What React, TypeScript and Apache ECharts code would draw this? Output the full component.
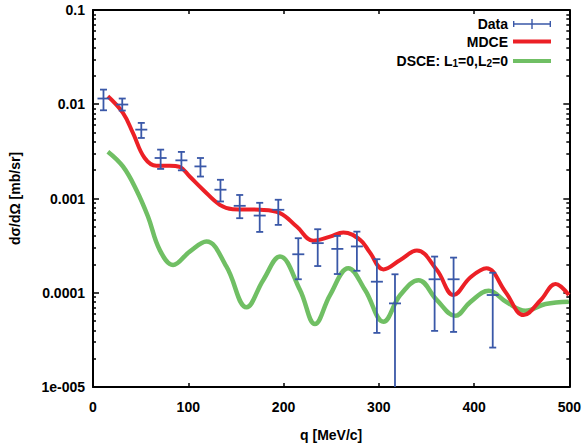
import React, { useEffect, useRef } from "react";
import * as echarts from "echarts";

// Data points: q [MeV/c], value, lower, upper
const dataQ = [11, 30.7, 50.7, 71, 92.8, 112.8, 133.8, 154, 175, 194.5, 215.5, 235.9, 256.5, 277, 298, 317, 358.6, 378.5, 419.6];
const dataV = [0.0115, 0.00993, 0.00538, 0.00269, 0.00254, 0.00219, 0.00124, 0.000836, 0.000659, 0.000759, 0.000256, 0.000336, 0.000292, 0.00031, 0.000131, 0.0000771, 0.000139, 0.000139, 0.0000946];
const dataLo = [0.00863, 0.00857, 0.00439, 0.00206, 0.00199, 0.00171, 0.00093, 0.000618, 0.000442, 0.000525, 0.000139, 0.000192, 0.000158, 0.000171, 0.0000375, 0.000001, 0.0000394, 0.0000384, 0.0000262];
const dataHi = [0.0143, 0.0115, 0.00634, 0.0033, 0.00312, 0.00269, 0.00158, 0.00109, 0.0009, 0.00097, 0.000379, 0.000472, 0.000401, 0.000445, 0.000227, 0.000157, 0.000242, 0.000236, 0.000163];

// MDCE curve
const mdceQ = [15.6, 31.4, 41.9, 54.2, 66.5, 80.5, 91, 101.5, 115.5, 133.1, 146.8, 175.1, 196.2, 213.8, 231.2, 248.8, 262.8, 280.4, 290.3, 304.9, 322.5, 340, 361, 378.5, 396, 413, 433, 452, 470, 485.5, 499.5];
const mdceV = [0.01216, 0.00811, 0.00497, 0.00269, 0.00223, 0.00223, 0.00216, 0.00171, 0.00124, 0.000857, 0.000771, 0.000759, 0.0007, 0.000504, 0.000357, 0.000394, 0.000435, 0.000364, 0.000271, 0.000177, 0.000223, 0.00028, 0.000174, 0.0000945, 0.000145, 0.000182, 0.000102, 0.0000579, 0.0000837, 0.000124, 0.0000945];

// DSCE curve
const dsceQ = [15.6, 31.4, 45.4, 57.7, 70, 84, 101.5, 119.1, 140.1, 161.2, 178.6, 196.2, 217.3, 233, 248.8, 268, 285.6, 304.9, 322.5, 341.7, 361, 380.3, 396, 415.4, 434, 454, 475, 499.5];
const dsceV = [0.00314, 0.00219, 0.00124, 0.000644, 0.000285, 0.000197, 0.000273, 0.000349, 0.000189, 0.00007, 0.000136, 0.000242, 0.000107, 0.0000465, 0.0000945, 0.000182, 0.000107, 0.0000492, 0.0000945, 0.000136, 0.0000836, 0.0000569, 0.0000796, 0.000105, 0.0000796, 0.0000644, 0.0000759, 0.0000802];

const yMajorTicks = [0.00001, 0.0001, 0.001, 0.01, 0.1];
const yTickLabels = ["1e-005", "0.0001", "0.001", "0.01", "0.1"];
const xTicks = [0, 100, 200, 300, 400, 500];

const BLUE = "#3a58a8";
const RED = "#ec2026";
const GREEN = "#70bf64";
const FONT = '"Liberation Sans", Arial, sans-serif';

const yMinorTicks: number[] = [];
for (let e = -5; e < -1; e++) {
  for (let m = 2; m <= 9; m++) yMinorTicks.push(Number((m * Math.pow(10, e)).toPrecision(3)));
}

export default function App() {
  const ref = useRef<HTMLDivElement>(null);
  useEffect(() => {
    if (!ref.current) return;
    const chart = echarts.init(ref.current, undefined, { renderer: "svg" });
    const grid = { left: 93, right: 14, top: 10, bottom: 61 };
    const baseY = {
      type: "log" as const,
      logBase: 10,
      min: 0.00001,
      max: 0.1,
      splitLine: { show: false },
      axisLine: { show: true, lineStyle: { color: "#000", width: 2 } },
    };
    const yLabelFmt = (v: number) => {
      const i = yMajorTicks.findIndex((t) => Math.abs(Math.log10(t) - Math.log10(v)) < 1e-6);
      return i >= 0 ? yTickLabels[i] : "";
    };
    const option: any = {
      animation: false,
      grid,
      legend: {
        orient: "vertical",
        align: "right",
        right: 28,
        top: 12,
        itemWidth: 38,
        itemHeight: 10,
        itemGap: 3.5,
        selectedMode: false,
        textStyle: {
          color: "#000",
          fontWeight: "bold",
          fontSize: 14,
          fontFamily: FONT,
          rich: {
            sub: { fontSize: 10, fontWeight: "bold", fontFamily: FONT, verticalAlign: "bottom", lineHeight: 10, padding: [6, 0, 0, 0] },
          },
        },
        formatter: (name: string) => (name.startsWith("DSCE") ? "DSCE: L{sub|1}=0,L{sub|2}=0" : name),
        data: [
          { name: "Data", icon: "path://M0,4.3L38,4.3L38,5.7L0,5.7ZM0,2L1.4,2L1.4,8L0,8ZM36.6,2L38,2L38,8L36.6,8ZM18.3,0L19.7,0L19.7,10L18.3,10Z" },
          { name: "MDCE", icon: "path://M0,0L0,0ZM38,10L38,10ZM0,3L38,3L38,7L0,7Z" },
          { name: "DSCE: L1=0,L2=0", icon: "path://M0,0L0,0ZM38,10L38,10ZM0,3L38,3L38,7L0,7Z" },
        ],
      },
      xAxis: [
        {
          type: "value",
          min: 0,
          max: 500,
          interval: 100,
          position: "bottom",
          name: "q [MeV/c]",
          nameLocation: "middle",
          nameGap: 41,
          nameTextStyle: { color: "#000", fontWeight: "bold", fontSize: 14, fontFamily: FONT },
          splitLine: { show: false },
          axisLine: { show: true, lineStyle: { color: "#000", width: 2 } },
          axisTick: { show: true, inside: true, length: 4, lineStyle: { color: "#000", width: 1.5 } },
          axisLabel: { color: "#000", fontWeight: "bold", fontSize: 14, fontFamily: FONT, margin: 13 },
        },
        {
          type: "value",
          min: 0,
          max: 500,
          interval: 100,
          position: "top",
          splitLine: { show: false },
          axisLine: { show: true, lineStyle: { color: "#000", width: 2 } },
          axisTick: { show: true, inside: true, length: 4, lineStyle: { color: "#000", width: 1.5 } },
          axisLabel: { show: false },
        },
      ],
      yAxis: [
        {
          ...baseY,
          position: "left",
          name: "dσ/dΩ [mb/sr]",
          nameLocation: "middle",
          nameGap: 71,
          nameTextStyle: { color: "#000", fontWeight: "bold", fontSize: 14, fontFamily: FONT },
          axisTick: { show: true, inside: true, length: 6, customValues: yMajorTicks, lineStyle: { color: "#000", width: 1.5 } },
          axisLabel: { color: "#000", fontWeight: "bold", fontSize: 14, fontFamily: FONT, margin: 8, customValues: yMajorTicks, formatter: yLabelFmt },
        },
        {
          ...baseY,
          position: "left",
          axisLine: { show: false },
          axisTick: { show: true, inside: true, length: 3, customValues: yMinorTicks, lineStyle: { color: "#000", width: 1.5 } },
          axisLabel: { show: false },
        },
        {
          ...baseY,
          position: "right",
          axisTick: { show: true, inside: true, length: 6, customValues: yMajorTicks, lineStyle: { color: "#000", width: 1.5 } },
          axisLabel: { show: false },
        },
        {
          ...baseY,
          position: "right",
          axisLine: { show: false },
          axisTick: { show: true, inside: true, length: 3, customValues: yMinorTicks, lineStyle: { color: "#000", width: 1.5 } },
          axisLabel: { show: false },
        },
      ],
      series: [
        {
          name: "DSCE: L1=0,L2=0",
          type: "line",
          smooth: 0.4,
          showSymbol: false,
          symbol: "none",
          color: GREEN,
          lineStyle: { color: GREEN, width: 4.5 },
          itemStyle: { color: GREEN },
          data: dsceQ.map((q, i) => [q, dsceV[i]]),
          z: 2,
        },
        {
          name: "MDCE",
          type: "line",
          smooth: 0.4,
          showSymbol: false,
          symbol: "none",
          color: RED,
          lineStyle: { color: RED, width: 4 },
          itemStyle: { color: RED },
          data: mdceQ.map((q, i) => [q, mdceV[i]]),
          z: 3,
        },
        {
          name: "Data",
          type: "custom",
          clip: true,
          color: BLUE,
          itemStyle: { color: BLUE },
          encode: { x: 0, y: 1 },
          data: dataQ.map((q, i) => [q, dataV[i], dataLo[i], dataHi[i]]),
          z: 4,
          renderItem: (params: any, api: any) => {
            const c = api.coord([api.value(0), api.value(1)]);
            const lo = api.coord([api.value(0), api.value(2)]);
            const hi = api.coord([api.value(0), api.value(3)]);
            const st = { stroke: BLUE, lineWidth: 1.8 };
            return {
              type: "group",
              children: [
                { type: "line", shape: { x1: c[0], y1: lo[1], x2: c[0], y2: hi[1] }, style: st },
                { type: "line", shape: { x1: c[0] - 3.5, y1: lo[1], x2: c[0] + 3.5, y2: lo[1] }, style: st },
                { type: "line", shape: { x1: c[0] - 3.5, y1: hi[1], x2: c[0] + 3.5, y2: hi[1] }, style: st },
                { type: "line", shape: { x1: c[0] - 6, y1: c[1], x2: c[0] + 6, y2: c[1] }, style: st },
              ],
            };
          },
        },
      ],
    };
    chart.setOption(option);
    return () => chart.dispose();
  }, []);
  return <div ref={ref} style={{ position: "fixed", left: 0, top: 0, width: 584, height: 448, background: "#fff" }} />;
}
